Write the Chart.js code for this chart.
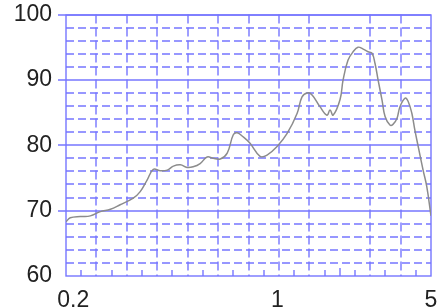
<!DOCTYPE html>
<html>
<head>
<meta charset="utf-8">
<script src="https://cdn.jsdelivr.net/npm/chart.js@4/dist/chart.umd.min.js"></script>
<style>
  html, body { margin: 0; padding: 0; background: #fff; }
  #wrap { width: 440px; height: 308px; }
</style>
</head>
<body>
<div id="wrap"><canvas id="chart"></canvas></div>
<script>
// x is in grid units (12 even divisions between 0.2 and 5)
const xPos = [0, 0.14, 0.47, 0.8, 1.13, 1.46, 1.78, 2.21, 2.44, 2.67, 2.87, 3.1, 3.33, 3.53, 3.76, 3.98,
  4.18, 4.41, 4.64, 4.84, 5.07, 5.3, 5.5, 5.63, 5.82, 6.05, 6.38, 6.61, 6.94, 7.27, 7.6, 7.76,
  7.93, 8.09, 8.35, 8.58, 8.68, 8.78, 9.01, 9.11, 9.27, 9.44, 9.6, 9.77, 9.93, 10.06, 10.16,
  10.26, 10.39, 10.49, 10.65, 10.75, 10.88, 10.98, 11.15, 11.25, 11.37, 11.47, 11.58, 11.74,
  11.86, 12];
const values = [68.3, 68.9, 69.1, 69.2, 69.85, 70.2, 70.9, 71.9, 72.9, 74.7, 76.3, 76.1, 76.2, 76.8, 77.0, 76.6,
  76.7, 77.2, 78.2, 78.0, 77.9, 78.8, 81.6, 81.9, 81.3, 80.3, 78.3, 78.5, 79.8, 81.8, 84.9, 87.4,
  88.0, 87.7, 85.9, 84.6, 85.4, 84.6, 87.0, 90.0, 93.0, 94.3, 95.0, 94.7, 94.3, 94.1, 92.5,
  90.0, 86.9, 84.4, 83.1, 83.2, 84.1, 85.9, 87.2, 86.7, 84.9, 82.3, 79.8, 76.2,
  73.7, 69.2];
const xTickPos = [0.24, 6.95, 12];
const xTickLabels = ['0.2', '1', '5'];
const yMin = 60, yMax = 100, yStep = 10;

const gridColor = 'rgb(118,118,255)';

const gridPlugin = {
  id: 'bluegrid',
  beforeDatasetsDraw(chart) {
    const { ctx, chartArea: a, scales: { x, y } } = chart;
    const px = v => Math.round(v);
    ctx.save();
    ctx.strokeStyle = gridColor;
    ctx.lineWidth = 1.4;

    // dashed horizontal lines every 2
    ctx.setLineDash([8, 4]);
    for (let v = yMin + 2; v < yMax; v += 2) {
      if (v % 10 === 0) continue;
      const yy = px(y.getPixelForValue(v));
      ctx.beginPath(); ctx.moveTo(a.left, yy); ctx.lineTo(a.right, yy); ctx.stroke();
    }
    // dashed vertical lines, one per unit (none at 9)
    ctx.setLineDash([9, 4]);
    for (let u = 1; u < 12; u++) {
      if (u === 9) continue;
      const xx = px(x.getPixelForValue(u));
      ctx.beginPath(); ctx.moveTo(xx, a.top); ctx.lineTo(xx, a.bottom); ctx.stroke();
    }
    ctx.setLineDash([]);
    // solid major lines, sticking out left of the axis
    for (let v = yMin + yStep; v <= yMax; v += yStep) {
      const yy = px(y.getPixelForValue(v));
      ctx.beginPath(); ctx.moveTo(a.left - 8, yy); ctx.lineTo(a.right, yy); ctx.stroke();
    }
    // minor ticks at the bottom
    for (let u = 0.5; u < 12; u += 1) {
      const xx = px(x.getPixelForValue(u));
      ctx.beginPath(); ctx.moveTo(xx, a.bottom); ctx.lineTo(xx, a.bottom - 6); ctx.stroke();
    }
    const x9 = px(x.getPixelForValue(9));
    ctx.beginPath(); ctx.moveTo(x9, a.bottom); ctx.lineTo(x9, a.bottom - 8); ctx.stroke();
    // frame
    ctx.strokeRect(px(a.left), px(a.top), px(a.right) - px(a.left), px(a.bottom) - px(a.top));
    ctx.restore();
  }
};

const labelFont = { family: "'Liberation Sans', Arial, sans-serif", size: 23 };

new Chart(document.getElementById('chart'), {
  type: 'line',
  data: {
    datasets: [{
      data: xPos.map((u, i) => ({ x: u, y: values[i] })),
      borderColor: 'rgb(140,140,140)',
      borderWidth: 1.5,
      pointRadius: 0,
      tension: 0.4,
      fill: false
    }]
  },
  options: {
    responsive: true,
    maintainAspectRatio: false,
    animation: false,
    layout: { padding: { top: 14.5, right: 9, left: 0, bottom: 0 } },
    plugins: { legend: { display: false }, tooltip: { enabled: false } },
    scales: {
      x: {
        type: 'linear',
        min: 0,
        max: 12,
        grid: { display: false },
        border: { display: false },
        afterBuildTicks: s => { s.ticks = xTickPos.map(v => ({ value: v })); },
        afterFit: s => { s.height = 32; s.paddingLeft = 0; s.paddingRight = 0; },
        ticks: {
          autoSkip: false,
          maxRotation: 0,
          padding: 3,
          color: '#222',
          font: labelFont,
          callback: v => xTickLabels[xTickPos.indexOf(v)]
        }
      },
      y: {
        min: yMin,
        max: yMax,
        grid: { display: false },
        border: { display: false },
        afterFit: s => { s.width = 66; s.paddingTop = 0; s.paddingBottom = 0; },
        ticks: { stepSize: yStep, padding: 6, color: '#222', font: labelFont }
      }
    }
  },
  plugins: [gridPlugin]
});
</script>
</body>
</html>
